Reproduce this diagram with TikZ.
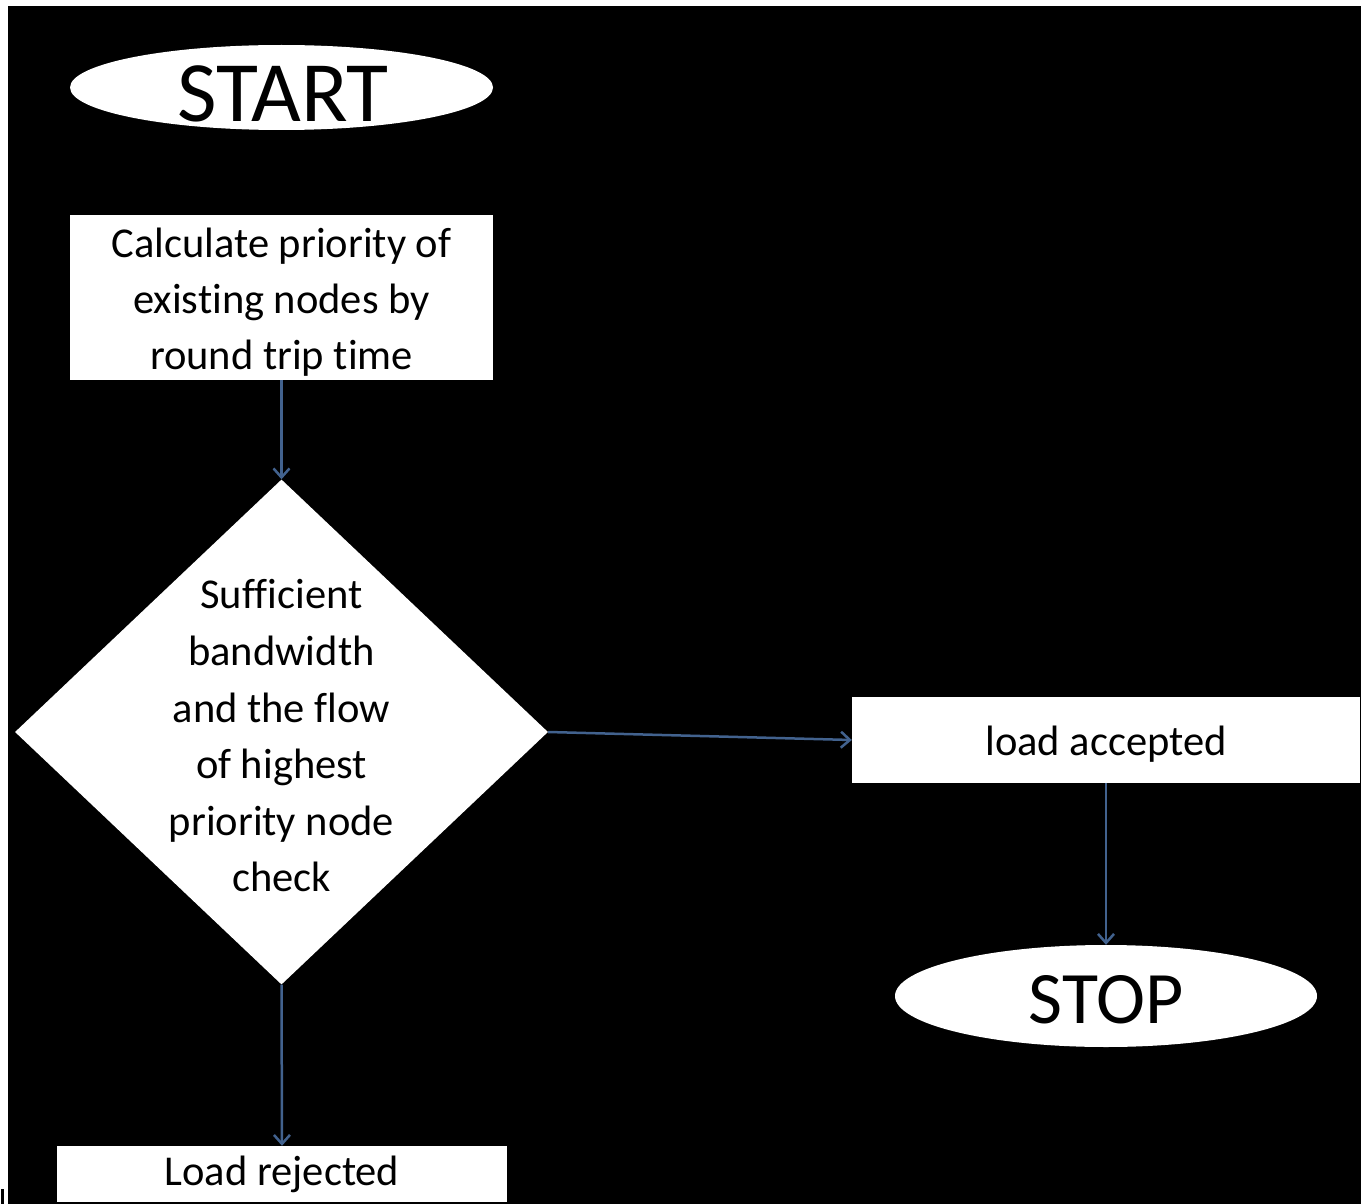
\documentclass[tikz,border=0pt]{standalone}
\usepackage{fontspec}
\setmainfont{Carlito}[Ligatures=NoCommon]
\usetikzlibrary{shapes.geometric,arrows.meta}
\definecolor{arrowc}{RGB}{66,98,142}
\begin{document}
\begin{tikzpicture}[x=1pt,y=-1pt,
  box/.style={fill=white,draw=none,rectangle,inner sep=0pt,align=center,font=\fontsize{42.5}{56}\selectfont},
  term/.style={fill=white,draw=none,ellipse,inner sep=0pt},
  decision/.style={fill=white,draw=none,diamond,inner sep=0pt,minimum width=533pt,minimum height=505pt},
  dectext/.style={align=center,inner sep=0pt,font=\fontsize{42.5}{56.6}\selectfont},
  bigtext/.style={inner sep=0pt,anchor=base},
  flow/.style={draw=arrowc,line width=2.5pt,-{Straight Barb[length=9pt,width=16pt,line width=2.5pt]}}
]
\fill[white] (0,0) rectangle (1361,1204);
\fill[black] (8,6) rectangle (1361,1204);
\useasboundingbox (0,0) rectangle (1361,1204);
\fill[black] (1,1189) rectangle (4,1204);

\node[term,minimum width=423pt,minimum height=85pt] (start) at (281.5,87.5) {};
\node[bigtext,font=\fontsize{86}{86}\selectfont] (starttxt) at (283,122) {START};

\node[box,minimum width=423pt,minimum height=165pt] (calc) at (281.5,297.5)
  {\rule{0pt}{38pt}Calculate priority of\\existing nodes by\\round trip time};

\node[decision] (dec) at (281.5,732) {};
\node[dectext] (dectxt) at (281.5,736)
  {Sufficient\\bandwidth\\and the flow\\of highest\\priority node\\check};

\node[box,minimum width=508pt,minimum height=86pt] (acc) at (1106,740) {\rule{0pt}{38pt}load accepted};

\node[term,minimum width=422pt,minimum height=102pt] (stop) at (1106,996) {};
\node[bigtext,font=\fontsize{74}{74}\selectfont] (stoptxt) at (1106,1023) {STOP};

\node[box,minimum width=450pt,minimum height=56pt] (rej) at (282,1174) {Load rejected};

\draw[flow] (calc.south) -- (dec.north);
\draw[flow] (dec.east) -- (acc.west);
\draw[flow] (acc.south) -- (stop.north);
\draw[flow] (dec.south) -- (rej.north);
\end{tikzpicture}
\end{document}
